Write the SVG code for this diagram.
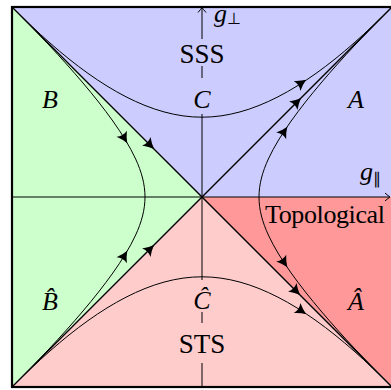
<svg xmlns="http://www.w3.org/2000/svg" xmlns:xlink="http://www.w3.org/1999/xlink" width="391" height="390" viewBox="0 0 391 390">
<style>
.dg{stroke:#000;fill:none;stroke-width:1.3}
.cv{stroke:#000;fill:none;stroke-width:1}
.ax{stroke:#000;fill:none;stroke-width:1}
.tx{font-family:"Liberation Serif","Times New Roman",serif;font-size:26px;fill:#000}
.big{font-size:27px}
.it{font-style:italic}
.sub{font-size:16px;font-style:normal}
</style>
<defs>
<path id="ah" d="M1.5,0 Q-4,-2 -9.5,-6 Q-6.5,0 -9.5,6 Q-4,2 1.5,0 Z" fill="#000"/>
<path id="ax" d="M-5,-4 Q-1.5,-1 0,0 Q-1.5,1 -5,4" fill="none" stroke="#000" stroke-width="1"/>
<path id="hc" class="cv" d="M0,-79.8 C6.33,-79.8 12.67,-80.25 19,-81.14 C25.33,-82.03 31.67,-83.35 38,-85.1 C44.33,-86.84 50.67,-88.99 57,-91.52 C63.33,-94.05 69.67,-96.96 76,-100.2 C82.33,-103.45 88.67,-107.05 95,-110.95 C101.33,-114.86 107.67,-119.09 114,-123.6 C120.33,-128.12 126.67,-132.92 133,-137.99 C139.33,-143.07 145.67,-148.41 152,-153.99 C158.33,-159.57 164.67,-165.39 171,-171.41 C177.33,-177.43 183.67,-183.67 190,-190"/>
<path id="ha" class="cv" d="M57,0 C57,-6.33 57.85,-12.67 59.46,-19 C61.07,-25.33 63.44,-31.67 66.35,-38 C69.27,-44.33 72.73,-50.67 76.58,-57 C80.43,-63.33 84.66,-69.67 89.17,-76 C93.68,-82.33 98.46,-88.67 103.45,-95 C108.44,-101.33 113.64,-107.67 119,-114 C124.36,-120.33 129.89,-126.67 135.57,-133 C141.25,-139.33 147.06,-145.67 153.01,-152 C158.96,-158.33 165.04,-164.67 171.21,-171 C177.38,-177.33 183.67,-183.67 190,-190"/>
</defs>
<g id="regions">
<polygon points="12,7 393,7 393,197 202,197" fill="#ccccff"/>
<polygon points="12,7 202,197 12,387" fill="#ccffcc"/>
<polygon points="12,387 202,197 393,387" fill="#ffcccc"/>
<polygon points="202,197 393,197 393,387" fill="#ff9999"/>
</g>
<g id="axes">
<line class="ax" x1="12" y1="197" x2="389" y2="197"/>
<use xlink:href="#ax" transform="translate(390,197)"/>
<line class="ax" x1="202" y1="387" x2="202" y2="8"/>
<use xlink:href="#ax" transform="translate(202,7.5) rotate(-90)"/>
</g>
<g id="label-boxes">
<rect x="175" y="39" width="54" height="27" fill="#ccccff"/>
<rect x="188" y="78" width="28" height="36" fill="#ccccff"/>
<rect x="188" y="280" width="28" height="32" fill="#ffcccc"/>
<rect x="173" y="323" width="58" height="40" fill="#ffcccc"/>
</g>
<g id="connectors">
<line class="dg" x1="12" y1="7" x2="392" y2="387"/>
<line class="dg" x1="12" y1="387" x2="392" y2="7"/>
<use xlink:href="#hc" transform="translate(202,197)"/>
<use xlink:href="#hc" transform="translate(202,197) scale(-1,1)"/>
<use xlink:href="#hc" transform="translate(202,197) scale(1,-1)"/>
<use xlink:href="#hc" transform="translate(202,197) scale(-1,-1)"/>
<use xlink:href="#ha" transform="translate(202,197)"/>
<use xlink:href="#ha" transform="translate(202,197) scale(1,-1)"/>
<use xlink:href="#ha" transform="translate(202,197) scale(-1,1)"/>
<use xlink:href="#ha" transform="translate(202,197) scale(-1,-1)"/>
<use xlink:href="#ah" transform="translate(305,80.7) rotate(-33.4)"/>
<use xlink:href="#ah" transform="translate(300,99) rotate(-45)"/>
<use xlink:href="#ah" transform="translate(286.5,128) rotate(-56)"/>
<use xlink:href="#ah" transform="translate(286.5,266) rotate(56)"/>
<use xlink:href="#ah" transform="translate(299,294) rotate(45)"/>
<use xlink:href="#ah" transform="translate(305,313.3) rotate(33.4)"/>
<use xlink:href="#ah" transform="translate(153,148) rotate(45)"/>
<use xlink:href="#ah" transform="translate(126.5,142) rotate(59.5)"/>
<use xlink:href="#ah" transform="translate(126.5,252) rotate(-59.5)"/>
<use xlink:href="#ah" transform="translate(153,246) rotate(-45)"/>
</g>
<g id="node-SSS"><text class="tx big" x="202" y="63" text-anchor="middle">SSS</text></g>
<g id="node-C"><text class="tx it" x="202" y="108" text-anchor="middle">C</text></g>
<g id="node-B"><text class="tx it" x="50" y="108" text-anchor="middle">B</text></g>
<g id="node-A"><text class="tx it" x="356" y="108" text-anchor="middle">A</text></g>
<g id="node-Chat"><text class="tx it" x="202" y="309" text-anchor="middle">Ĉ</text></g>
<g id="node-STS"><text class="tx big" x="202" y="353" text-anchor="middle">STS</text></g>
<g id="node-Bhat"><text class="tx it" x="50" y="310" text-anchor="middle">B̂</text></g>
<g id="node-Ahat"><text class="tx it" x="356" y="310" text-anchor="middle">Â</text></g>
<g id="node-Topological"><text class="tx" font-size="25" x="265" y="223" textLength="120">Topological</text></g>
<g id="label-gperp"><text class="tx it" font-size="24" x="214" y="22">g<tspan class="sub" dy="2">⊥</tspan></text></g>
<g id="label-gpar"><text class="tx it" font-size="24" x="360" y="180">g<tspan class="sub" dy="4">∥</tspan></text></g>
<rect x="12" y="7" width="381" height="380" fill="none" stroke="#000" stroke-width="2.2"/>
</svg>
